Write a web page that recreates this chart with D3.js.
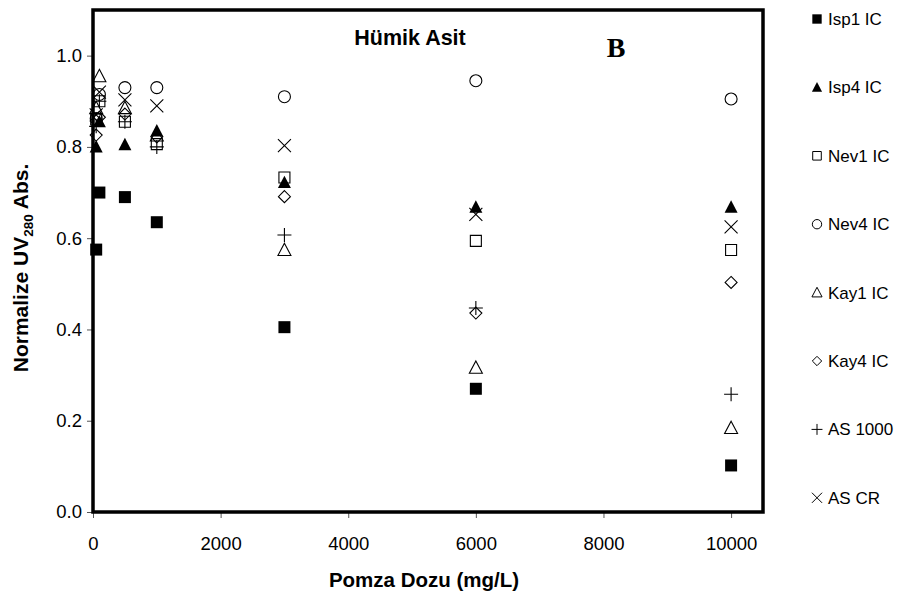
<!DOCTYPE html>
<html><head><meta charset="utf-8">
<script src="https://cdn.jsdelivr.net/npm/d3@7"></script>
<style>body{margin:0;background:#fff}svg{display:block}</style>
</head><body>
<svg id="c" width="909" height="599"></svg>
<script>
const doses = [50, 100, 500, 1000, 3000, 6000, 10000];
const seriesNames = ["Isp1 IC","Isp4 IC","Nev1 IC","Nev4 IC","Kay1 IC","Kay4 IC","AS 1000","AS CR"];
const isp1 =   [0.575, 0.700, 0.690, 0.635, 0.405, 0.270, 0.102];
const isp4 =   [0.800, 0.855, 0.805, 0.835, 0.722, 0.668, 0.668];
const nev1 =   [0.860, 0.900, 0.855, 0.806, 0.733, 0.594, 0.574];
const nev4 =   [0.862, 0.915, 0.930, 0.930, 0.910, 0.945, 0.905];
const kay1 =   [0.885, 0.955, 0.885, 0.825, 0.574, 0.316, 0.184];
const kay4 =   [0.826, 0.865, 0.872, 0.822, 0.691, 0.436, 0.503];
const as1000 = [0.845, 0.900, 0.855, 0.800, 0.607, 0.447, 0.258];
const ascr =   [0.870, 0.920, 0.903, 0.890, 0.803, 0.652, 0.625];
const xTicks = [0, 2000, 4000, 6000, 8000, 10000];
const yTicks = [0.0, 0.2, 0.4, 0.6, 0.8, 1.0];
const seriesValues = [isp1, isp4, nev1, nev4, kay1, kay4, as1000, ascr];

const svg = d3.select("#c");
const L = 93, R = 763, T = 10, B = 512;
const x = d3.scaleLinear().domain([0, 10500]).range([L, R]);
const y = d3.scaleLinear().domain([0, 1.1]).range([B, T]);
const SANS = "Liberation Sans, Arial, sans-serif";

// custom symbols (size = half-width)
const sq = {draw(c, r){c.moveTo(-r,-r);c.lineTo(r,-r);c.lineTo(r,r);c.lineTo(-r,r);c.closePath();}};
const tri = {draw(c, r){c.moveTo(0,-r*1.05);c.lineTo(r,r*0.85);c.lineTo(-r,r*0.85);c.closePath();}};
const dia = {draw(c, r){c.moveTo(0,-r);c.lineTo(r,0);c.lineTo(0,r);c.lineTo(-r,0);c.closePath();}};
const cir = {draw(c, r){c.moveTo(r,0);c.arc(0,0,r,0,2*Math.PI);c.closePath();}};
const plus = {draw(c, r){c.moveTo(-r,0);c.lineTo(r,0);c.moveTo(0,-r);c.lineTo(0,r);}};
const cross = {draw(c, r){c.moveTo(-r,-r);c.lineTo(r,r);c.moveTo(r,-r);c.lineTo(-r,r);}};
const styles = [
  {t: sq, fill: "#000", stroke: "none", r: 6},
  {t: tri, fill: "#000", stroke: "none", r: 6.5},
  {t: sq, fill: "none", stroke: "#000", r: 5.5},
  {t: cir, fill: "none", stroke: "#000", r: 6},
  {t: tri, fill: "none", stroke: "#000", r: 6.5},
  {t: dia, fill: "none", stroke: "#000", r: 6},
  {t: plus, fill: "none", stroke: "#000", r: 7},
  {t: cross, fill: "none", stroke: "#000", r: 6.5}
];

// axes
const xAxis = d3.axisBottom(x).tickValues(xTicks).tickSize(6).tickFormat(d3.format("d"));
const gx = svg.append("g").attr("transform", `translate(0,${B})`).call(xAxis);
gx.select(".domain").remove();
gx.selectAll(".tick line").attr("stroke", "#555").attr("stroke-width", 1);
gx.selectAll(".tick text").attr("font-family", SANS).attr("font-size", 18.5).attr("fill", "#000")
  .attr("y", 38).attr("dy", null);

const yAxis = d3.axisLeft(y).tickValues(yTicks).tickSize(6).tickFormat(d3.format(".1f"));
const gy = svg.append("g").attr("transform", `translate(${L},0)`).call(yAxis);
gy.select(".domain").remove();
gy.selectAll(".tick line").attr("stroke", "#555").attr("stroke-width", 1);
gy.selectAll(".tick text").attr("font-family", SANS).attr("font-size", 18.5).attr("fill", "#000").attr("x", -11);

// points
seriesValues.forEach((vals, i) => {
  const s = styles[i];
  const sym = d3.symbol().type(s.t).size(s.r);
  svg.append("g").selectAll("path").data(vals).join("path")
    .attr("transform", (d, j) => `translate(${x(doses[j])},${y(d)})`)
    .attr("d", sym)
    .attr("fill", s.fill).attr("stroke", s.stroke).attr("stroke-width", 1.1);
});

// frame
svg.append("rect").attr("x", L).attr("y", T).attr("width", R - L).attr("height", B - T)
  .attr("fill", "none").attr("stroke", "#000").attr("stroke-width", 3.5);

// titles
svg.append("text").attr("x", 410).attr("y", 45).attr("text-anchor", "middle")
  .attr("font-family", SANS).attr("font-weight", "bold").attr("font-size", 21.5)
  .text("Hümik Asit");
svg.append("text").attr("x", 616).attr("y", 57).attr("text-anchor", "middle")
  .attr("font-family", "Liberation Serif, Times New Roman, serif").attr("font-weight", "bold").attr("font-size", 28)
  .text("B");

// axis labels
svg.append("text").attr("x", 424).attr("y", 587).attr("text-anchor", "middle")
  .attr("font-family", SANS).attr("font-weight", "bold").attr("font-size", 20.5)
  .text("Pomza Dozu (mg/L)");
const yl = svg.append("text").attr("transform", "translate(28,268) rotate(-90)").attr("text-anchor", "middle")
  .attr("font-family", SANS).attr("font-weight", "bold").attr("font-size", 21);
yl.append("tspan").text("Normalize UV");
yl.append("tspan").attr("font-size", 13.5).attr("dy", 5).text("280");
yl.append("tspan").attr("dy", -5).text(" Abs.");

// legend
const lg = svg.append("g");
seriesNames.forEach((n, i) => {
  const s = styles[i];
  const yy = 19 + i * 68.4;
  lg.append("path").attr("transform", `translate(817,${yy})`)
    .attr("d", d3.symbol().type(s.t).size(s.r * 0.78))
    .attr("fill", s.fill).attr("stroke", s.stroke).attr("stroke-width", 1);
  lg.append("text").attr("x", 828).attr("y", yy + 6)
    .attr("font-family", SANS).attr("font-size", 17).text(n);
});
</script>
</body></html>
